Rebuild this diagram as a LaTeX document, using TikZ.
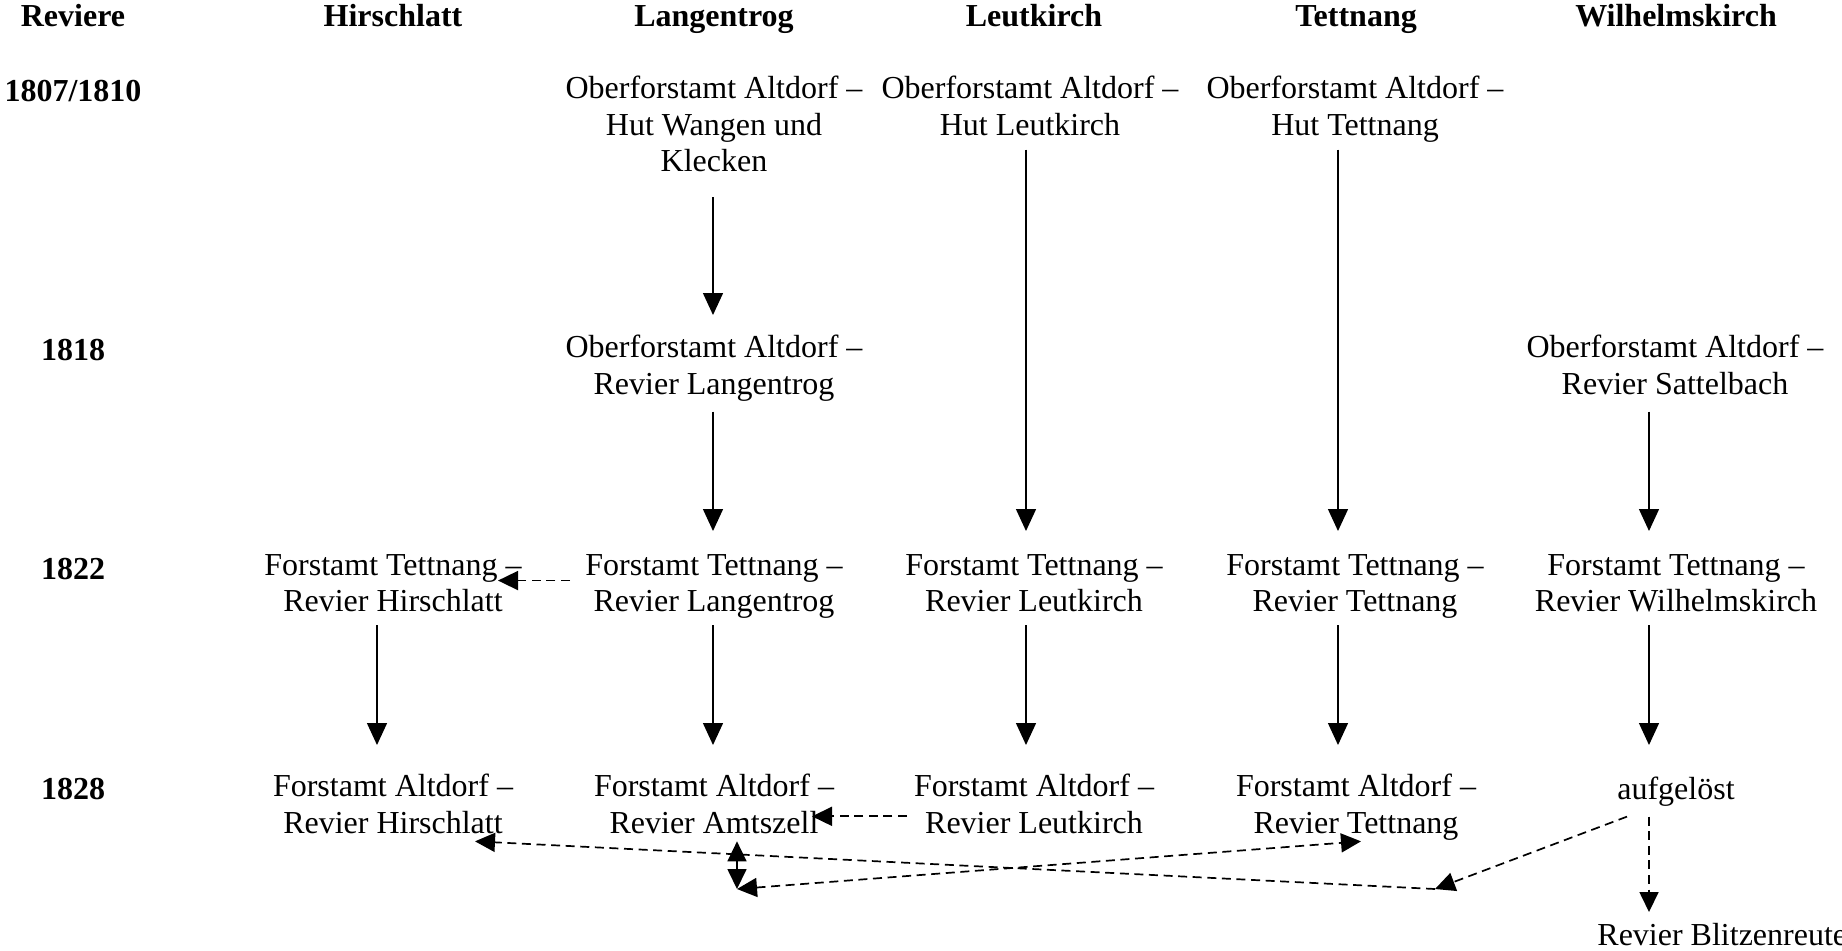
\documentclass[tikz,border=0pt]{standalone}
\usepackage{fontspec}
\setmainfont{Liberation Serif}
\usetikzlibrary{arrows.meta}
\begin{document}
\begin{tikzpicture}[x=0.5pt,y=-0.5pt,
  txt/.style={align=center,inner sep=0pt,anchor=north,font=\fontsize{16}{18.2}\selectfont,
    execute at begin node=\strut,execute at end node=\strut},
  hdr/.style={txt,font=\fontsize{16}{18.2}\selectfont\bfseries},
  arr/.style={line width=0.7pt,-{Triangle[width=10pt,length=11pt]}},
  darr/.style={line width=0.85pt,dash pattern=on 4.5pt off 2.8pt,-{Triangle[width=9.5pt,length=10pt]}},
  ddarr/.style={darr,{Triangle[width=9.5pt,length=10pt]}-{Triangle[width=9.5pt,length=10pt]}}]
\useasboundingbox (0,0) rectangle (1842,950);
% headers
\node[hdr] (hRe) at (73,1) {Reviere};
\node[hdr] (hHi) at (393,1) {Hirschlatt};
\node[hdr] (hLa) at (714,1) {Langentrog};
\node[hdr] (hLe) at (1034,1) {Leutkirch};
\node[hdr] (hTe) at (1356,1) {Tettnang};
\node[hdr] (hWi) at (1676,1) {Wilhelmskirch};
% row labels
\node[hdr] (r07) at (73,76) {1807/1810};
\node[hdr] (r18) at (73,335) {1818};
\node[hdr] (r22) at (73,554) {1822};
\node[hdr] (r28) at (73,774) {1828};
% 1807/1810
\node[txt] (La07) at (714,76) {Oberforstamt Altdorf –\\Hut Wangen und\\Klecken};
\node[txt] (Le07) at (1030,76) {Oberforstamt Altdorf –\\Hut Leutkirch};
\node[txt] (Te07) at (1355,76) {Oberforstamt Altdorf –\\Hut Tettnang};
% 1818
\node[txt] (La18) at (714,335) {Oberforstamt Altdorf –\\Revier Langentrog};
\node[txt] (Wi18) at (1675,335) {Oberforstamt Altdorf –\\Revier Sattelbach};
% 1822
\node[txt] (Hi22) at (393,554) {Forstamt Tettnang –\\Revier Hirschlatt};
\node[txt] (La22) at (714,554) {Forstamt Tettnang –\\Revier Langentrog};
\node[txt] (Le22) at (1034,554) {Forstamt Tettnang –\\Revier Leutkirch};
\node[txt] (Te22) at (1355,554) {Forstamt Tettnang –\\Revier Tettnang};
\node[txt] (Wi22) at (1676,554) {Forstamt Tettnang –\\Revier Wilhelmskirch};
% 1828
\node[txt] (Hi28) at (393,774) {Forstamt Altdorf –\\Revier Hirschlatt};
\node[txt] (La28) at (714,774) {Forstamt Altdorf –\\Revier Amtszell};
\node[txt] (Le28) at (1034,774) {Forstamt Altdorf –\\Revier Leutkirch};
\node[txt] (Te28) at (1356,774) {Forstamt Altdorf –\\Revier Tettnang};
\node[txt] (Au28) at (1676,774) {aufgelöst};
\node[txt,anchor=north west] (Bl) at (1597,920) {Revier Blitzenreute};
% solid arrows
\draw[arr] ([shift={(-1,14)}]La07.south) -- ([shift={(-1,-20)}]La18.north);
\draw[arr] ([shift={(-4,3)}]Le07.south) -- ([shift={(-8,-23)}]Le22.north);
\draw[arr] ([shift={(-17,3)}]Te07.south) -- ([shift={(-17,-23)}]Te22.north);
\draw[arr] ([shift={(-1,6)}]La18.south) -- ([shift={(-1,-23)}]La22.north);
\draw[arr] ([shift={(-26,6)}]Wi18.south) -- ([shift={(-27,-23)}]Wi22.north);
\draw[arr] ([shift={(-16,2)}]Hi22.south) -- ([shift={(-16,-29)}]Hi28.north);
\draw[arr] ([shift={(-1,2)}]La22.south) -- ([shift={(-1,-29)}]La28.north);
\draw[arr] ([shift={(-8,2)}]Le22.south) -- ([shift={(-8,-29)}]Le28.north);
\draw[arr] ([shift={(-17,2)}]Te22.south) -- ([shift={(-18,-29)}]Te28.north);
\draw[arr] ([shift={(-27,2)}]Wi22.south) -- ([shift={(-27,-29)}]Au28.north);
% dashed arrows
\coordinate (c1) at (1435,889);
\coordinate (c2) at (737,889);
\draw[darr] ([shift={(-144,-8)}]La22.center) -- ([shift={(105,-8)}]Hi22.center);
\draw[darr] ([shift={(-127,7)}]Le28.center) -- ([shift={(98,7)}]La28.center);
\draw[darr] ([shift={(-49,24)}]Au28.center) -- (c1);
\draw[darr] (c1) -- ([shift={(82,32)}]Hi28.center);
\draw[ddarr] (c2) -- ([shift={(5,32)}]Te28.center);
\draw[ddarr] ([shift={(23,32)}]La28.center) -- (c2);
\draw[darr] ([shift={(-27,24)}]Au28.center) -- ([shift={(52,-8)}]Bl.north west);
\end{tikzpicture}
\end{document}
